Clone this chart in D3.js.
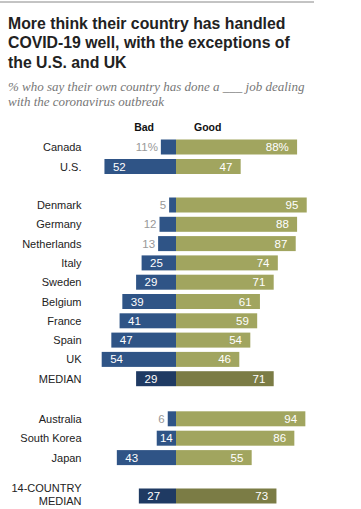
<!DOCTYPE html>
<html><head><meta charset="utf-8">
<script src="https://cdn.jsdelivr.net/npm/d3@7"></script>
<style>body{margin:0;background:#fff}svg{display:block}</style>
</head><body>
<script>
const countries = ["Canada","U.S.","Denmark","Germany","Netherlands","Italy","Sweden","Belgium","France","Spain","UK","MEDIAN","Australia","South Korea","Japan","14-COUNTRY MEDIAN"];
const bad  = [11,52,5,12,13,25,29,39,41,47,54,29,6,14,43,27];
const good = [88,47,95,88,87,74,71,61,59,54,46,71,94,86,55,73];
const rowY = [147,166.5,205,224.3,243.6,262.9,282.2,301.5,320.8,340.1,359.4,378.7,418.8,438.2,457.6,496];
const isMedian = [0,0,0,0,0,0,0,0,0,0,0,1,0,0,0,1];

const W=361,H=509;
const svg=d3.select("body").append("svg").attr("width",W).attr("height",H);
const font="'Liberation Sans', Arial, sans-serif";

svg.append("line").attr("x1",0).attr("x2",314).attr("y1",2).attr("y2",2).attr("stroke","#888").attr("stroke-width",1);

const title=["More think their country has handled","COVID-19 well, with the exceptions of","the U.S. and UK"];
svg.append("g").selectAll("text").data(title).join("text")
  .attr("x",8).attr("y",(d,i)=>28.5+i*19.7).text(d=>d)
  .attr("font-family",font).attr("font-weight","bold").attr("font-size",15.8).attr("fill","#222");

const sub=["% who say their own country has done a ___ job dealing","with the coronavirus outbreak"];
svg.append("g").selectAll("text").data(sub).join("text")
  .attr("x",8).attr("y",(d,i)=>91+i*14.5).text(d=>d)
  .attr("font-family","'Liberation Serif', Georgia, serif").attr("font-style","italic").attr("font-size",13).attr("fill","#777");

const cx=176;
const x=d3.scaleLinear().domain([0,100]).range([0,137.6]);
const bh=15;

svg.append("text").attr("x",154).attr("y",130.5).attr("text-anchor","end").text("Bad")
  .attr("font-family",font).attr("font-weight","bold").attr("font-size",10.5).attr("fill","#111");
svg.append("text").attr("x",194).attr("y",130.5).text("Good")
  .attr("font-family",font).attr("font-weight","bold").attr("font-size",10.5).attr("fill","#111");

const data=countries.map((c,i)=>({c,b:bad[i],g:good[i],y:rowY[i],m:isMedian[i]}));
const g=svg.append("g");
const rows=g.selectAll("g").data(data).join("g");

rows.append("rect").attr("x",d=>cx-x(d.b)).attr("width",d=>x(d.b)).attr("y",d=>d.y-bh/2).attr("height",bh)
  .attr("fill",d=>d.m?"#1f3a63":"#2f5486");
rows.append("rect").attr("x",cx).attr("width",d=>x(d.g)).attr("y",d=>d.y-bh/2).attr("height",bh)
  .attr("fill",d=>d.m?"#7b7c45":"#a1a55f");

const fs=11.5;
rows.each(function(d,i){
  const s=d3.select(this);
  const lines=d.c==="14-COUNTRY MEDIAN"?["14-COUNTRY","MEDIAN"]:[d.c];
  lines.forEach((l,j)=>{
    s.append("text").attr("x",81.5).attr("y",d.y+4+(lines.length>1?(j*13-8):0)).attr("text-anchor","end").text(l)
      .attr("font-family",font).attr("font-size",11).attr("fill","#222");
  });
  const pct=i===0?"%":"";
  const bs=cx-x(d.b), bw=x(d.b);
  if(d.b<=13){
    s.append("text").attr("x",bs-3).attr("y",d.y+4).attr("text-anchor","end").text(d.b+pct)
      .attr("font-family",font).attr("font-size",fs).attr("fill","#999");
  } else if(bw<25){
    s.append("text").attr("x",bs+bw/2).attr("y",d.y+4).attr("text-anchor","middle").text(d.b+pct)
      .attr("font-family",font).attr("font-size",fs).attr("fill","#fff");
  } else {
    s.append("text").attr("x",bs+8.5).attr("y",d.y+4).text(d.b+pct)
      .attr("font-family",font).attr("font-size",fs).attr("fill","#fff");
  }
  s.append("text").attr("x",cx+x(d.g)-8.3).attr("y",d.y+4).attr("text-anchor","end").text(d.g+pct)
    .attr("font-family",font).attr("font-size",fs).attr("fill","#fff");
});
</script>
</body></html>
